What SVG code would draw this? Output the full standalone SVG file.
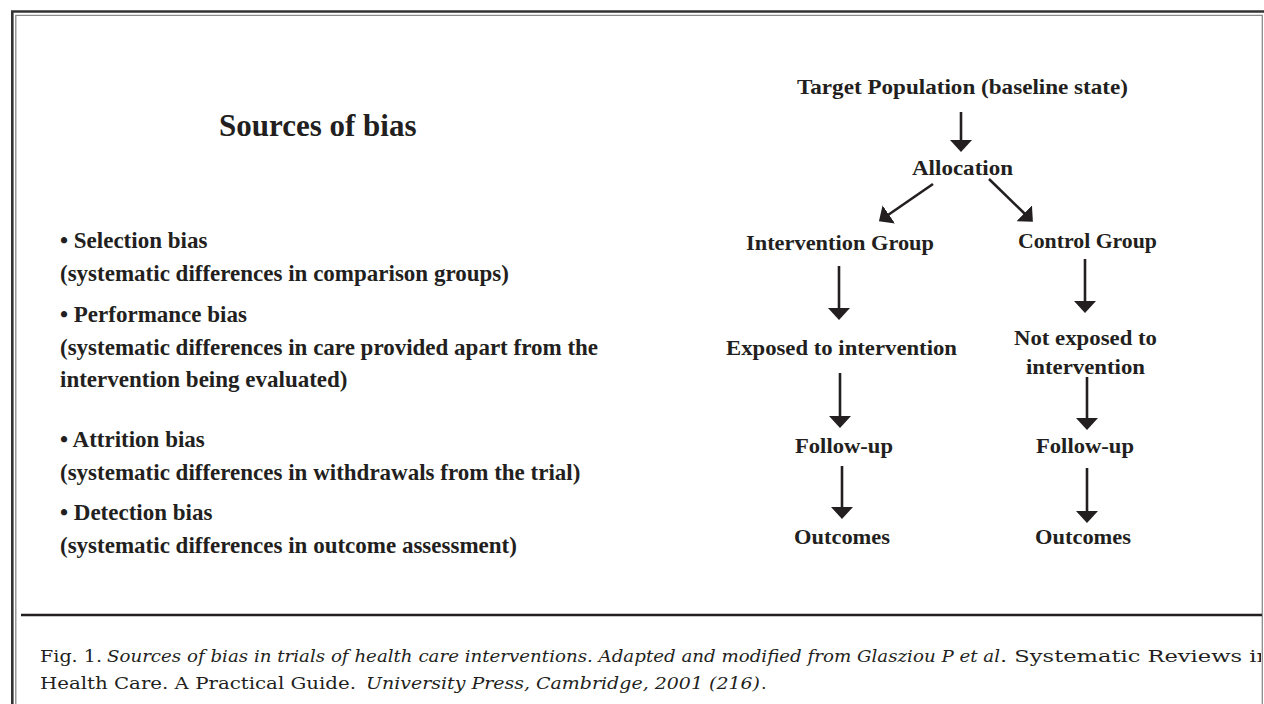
<svg xmlns="http://www.w3.org/2000/svg" width="1264" height="704" viewBox="0 0 1264 704">
<style>
.t{font-family:"Liberation Serif","Times New Roman",serif;font-weight:bold;fill:#231f20}
.n{font-size:22px}
.l{font-size:23px}
.cap{font-family:"DejaVu Serif","Liberation Serif",serif;font-size:17.5px;fill:#231f20}
.it{font-style:italic}
.c{stroke:#231f20;stroke-width:2.6;fill:none}
</style>
<defs>
<marker id="ah" viewBox="0 0 12 22" refX="1" refY="11" markerWidth="12" markerHeight="22" markerUnits="userSpaceOnUse" orient="auto">
<path d="M0,0 L12,11 L0,22 z" fill="#231f20"/>
</marker>
<clipPath id="clip"><rect x="16" y="16" width="1245" height="688"/></clipPath>
</defs>
<rect width="1264" height="704" fill="#fff"/>
<g id="frame">
<path d="M12.3,704 V11.5 H1264" fill="none" stroke="#333" stroke-width="2.6"/>
<path d="M15.8,704 V15.3 H1262.3 V704" fill="none" stroke="#8a8a8a" stroke-width="1.3"/>
<line x1="21" y1="615" x2="1262" y2="615" stroke="#231f20" stroke-width="2.6"/>
</g>
<g id="title"><text class="t" x="219" y="136" font-size="31">Sources of bias</text></g>
<g id="bias-list" class="t l">
<text x="60" y="248">• Selection bias</text>
<text x="60" y="281">(systematic differences in comparison groups)</text>
<text x="60" y="322">• Performance bias</text>
<text x="60" y="355">(systematic differences in care provided apart from the</text>
<text x="60" y="387">intervention being evaluated)</text>
<text x="60" y="447">• Attrition bias</text>
<text x="60" y="480">(systematic differences in withdrawals from the trial)</text>
<text x="60" y="520">• Detection bias</text>
<text x="60" y="553">(systematic differences in outcome assessment)</text>
</g>
<g id="connectors" class="c" marker-end="url(#ah)">
<line x1="961" y1="112" x2="961" y2="141"/>
<line x1="933" y1="184" x2="888" y2="215"/>
<line x1="989" y1="179" x2="1025" y2="214"/>
<line x1="839" y1="266" x2="839" y2="309"/>
<line x1="1085" y1="259" x2="1085" y2="302"/>
<line x1="840" y1="373" x2="840" y2="417"/>
<line x1="1087" y1="377" x2="1087" y2="419"/>
<line x1="842" y1="466" x2="842" y2="508"/>
<line x1="1087" y1="468" x2="1087" y2="512"/>
</g>
<g id="target"><text class="t n" x="797" y="94" textLength="331" lengthAdjust="spacingAndGlyphs">Target Population (baseline state)</text></g>
<g id="allocation"><text class="t n" x="912" y="175" textLength="101" lengthAdjust="spacingAndGlyphs">Allocation</text></g>
<g id="intervention-group"><text class="t n" x="746" y="250" textLength="188" lengthAdjust="spacingAndGlyphs">Intervention Group</text></g>
<g id="control-group"><text class="t n" x="1018" y="248" textLength="139" lengthAdjust="spacingAndGlyphs">Control Group</text></g>
<g id="exposed"><text class="t n" x="726" y="355" textLength="231" lengthAdjust="spacingAndGlyphs">Exposed to intervention</text></g>
<g id="not-exposed">
<text class="t n" x="1014" y="345" textLength="143" lengthAdjust="spacingAndGlyphs">Not exposed to</text>
<text class="t n" x="1026" y="374" textLength="119" lengthAdjust="spacingAndGlyphs">intervention</text>
</g>
<g id="followup-left"><text class="t n" x="795" y="453" textLength="98" lengthAdjust="spacingAndGlyphs">Follow-up</text></g>
<g id="followup-right"><text class="t n" x="1036" y="453" textLength="98" lengthAdjust="spacingAndGlyphs">Follow-up</text></g>
<g id="outcomes-left"><text class="t n" x="794" y="544" textLength="96" lengthAdjust="spacingAndGlyphs">Outcomes</text></g>
<g id="outcomes-right"><text class="t n" x="1035" y="544" textLength="96" lengthAdjust="spacingAndGlyphs">Outcomes</text></g>
<g id="caption" clip-path="url(#clip)">
<text class="cap" x="40" y="662" textLength="62" lengthAdjust="spacingAndGlyphs">Fig. 1.</text>
<text class="cap it" x="107" y="662" textLength="893" lengthAdjust="spacingAndGlyphs">Sources of bias in trials of health care interventions. Adapted and modified from Glasziou P et al</text>
<text class="cap" x="1000" y="662" textLength="271" lengthAdjust="spacingAndGlyphs">. Systematic Reviews in</text>
<text class="cap" x="40" y="689" textLength="316" lengthAdjust="spacingAndGlyphs">Health Care. A Practical Guide.</text>
<text class="cap it" x="366" y="689" textLength="394" lengthAdjust="spacingAndGlyphs">University Press, Cambridge, 2001 (216)</text>
<text class="cap" x="761" y="689">.</text>
</g>
</svg>
